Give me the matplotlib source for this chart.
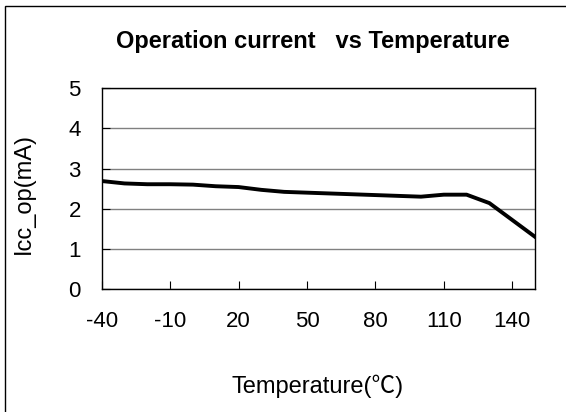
import matplotlib.pyplot as plt
from matplotlib.patches import Rectangle

# datos
temperatura = [-40, -30, -20, -10, 0, 10, 20, 30, 40, 50, 60, 70, 80, 90, 100, 110, 120, 130, 140, 150]
corriente = [2.69, 2.63, 2.61, 2.61, 2.60, 2.56, 2.54, 2.47, 2.42, 2.40, 2.38, 2.36, 2.34, 2.32,
             2.30, 2.35, 2.35, 2.14, 1.72, 1.30]
ticks_x = [-40, -10, 20, 50, 80, 110, 140]
ticks_y = [0, 1, 2, 3, 4, 5]

plt.rcParams['font.family'] = ['Liberation Sans', 'Noto Sans CJK SC', 'DejaVu Sans']
plt.rcParams['axes.unicode_minus'] = False

W, H = 566, 412
fig = plt.figure(figsize=(W / 100, H / 100), dpi=100)
ax = fig.add_axes([101.7 / W, 1 - 289 / H, (535 - 101.7) / W, (289 - 88.3) / H])

ax.plot(temperatura, corriente, color='black', linewidth=2.8, solid_joinstyle='round')

ax.set_xlim(-40, 150)
ax.set_ylim(0, 5)
ax.set_xticks(ticks_x)
ax.set_yticks(ticks_y)
ax.grid(axis='y', color='#808080', linewidth=1)
ax.set_axisbelow(True)
ax.tick_params(axis='x', direction='in', length=5.5, width=0.8, pad=16, labelsize=16)
ax.tick_params(axis='y', direction='in', length=5.5, width=0.8, pad=15, labelsize=16)
for s in ax.spines.values():
    s.set_linewidth(1.0)
    s.set_color('black')

fig.text(313 / W, 1 - 48 / H, 'Operation current   vs Temperature', ha='center', va='baseline',
         fontsize=17, fontweight='bold')
fig.text(24 / W, 1 - 194 / H, 'Icc_op(mA)', ha='center', va='center', rotation=90, fontsize=17)
fig.text(318 / W, 1 - 393 / H, 'Temperature(\u2103)', ha='center', va='baseline', fontsize=17)

# marco exterior (solo se ven borde izquierdo y superior)
fig.add_artist(Rectangle((5 / W, -0.1), 1.2, 1 - 6 / H + 0.1, transform=fig.transFigure,
                         fill=False, edgecolor='black', linewidth=1.0))

fig.savefig('out.png', dpi=100)
